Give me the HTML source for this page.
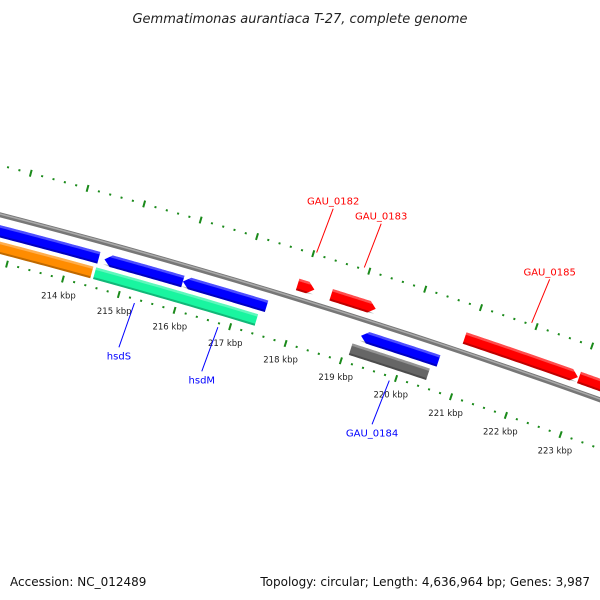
<!DOCTYPE html>
<html><head><meta charset="utf-8"><style>
html,body{margin:0;padding:0;background:#fff;}
svg{display:block;font-family:"DejaVu Sans","Liberation Sans",sans-serif;}
</style></head><body>
<svg id="map" width="600" height="600" viewBox="0 0 600 600">
<rect width="600" height="600" fill="#fff"/>
<text x="300" y="23" text-anchor="middle" font-size="13" font-style="italic" fill="#222">Gemmatimonas aurantiaca T-27, complete genome</text>
<g id="rings"></g>
<g id="backbone"></g>
<g id="feats"></g>
<g id="labels"></g>
<text x="10" y="586" font-size="12" fill="#111">Accession: NC_012489</text>
<text x="590" y="586" text-anchor="end" font-size="12" fill="#111">Topology: circular; Length: 4,636,964 bp; Genes: 3,987</text>
</svg>
<script>
// ---- data (positions in kbp) ----
const featStart  = [212.0, 214.6, 216.0, 212.0, 214.5, 217.9, 218.5, 219.2, 219.1, 220.9, 222.97, 223.72];
const featEnd    = [214.5, 216.0, 217.5, 214.45, 217.4, 218.2, 219.3, 220.6, 220.5, 222.95, 223.7, 224.6];
const featStrand = [-1, -1, -1, 0, 0, 1, 1, -1, 0, 1, 1, 1];
const featRow    = [-1, -1, -1, -2, -2, 1, 1, -1, -2, 1, 1, 1];
const featColor  = ["#0000ff","#0000ff","#0000ff","#ff8c00","#19f5a0","#ff0000","#ff0000","#0000ff","#666666","#ff0000","#ff0000","#ff0000"];
const featName   = ["blue-gene-a","hsdS","hsdM","orange-gene","green-gene","GAU_0182","GAU_0183","GAU_0184","gray-gene","GAU_0185","red-gene-b","red-gene-c"];
const labelText  = ["GAU_0182","GAU_0183","GAU_0185","hsdS","hsdM","GAU_0184"];
const labelPos   = [218.05, 218.9, 221.9, 215.3, 216.8, 219.9];
const labelSide  = [1, 1, 1, -1, -1, -1];
const labelColor = ["#ff0000","#ff0000","#ff0000","#0000ff","#0000ff","#0000ff"];
const tickStart = 211.0, tickEnd = 225.0, tickStep = 0.2;
const tickLabelKbp = [214,215,216,217,218,219,220,221,222,223];

// ---- geometry ----
const NS="http://www.w3.org/2000/svg";
const CX=-1725, CY=6874, R=6879;
const a214=Math.atan2(-6639.4,1800), dA=0.00848;
function ang(k){return a214+(k-214)*dA;}
function pt(k,r){const a=ang(k);return [CX+(R+r)*Math.cos(a),CY+(R+r)*Math.sin(a)];}
function mk(tag,attrs,parent){const e=document.createElementNS(NS,tag);for(const k in attrs)e.setAttribute(k,attrs[k]);parent.appendChild(e);return e;}
function arcPath(k1,k2,r){let d="";const n=40;for(let i=0;i<=n;i++){const p=pt(k1+(k2-k1)*i/n,r);d+=(i?"L":"M")+p[0].toFixed(2)+" "+p[1].toFixed(2);}return d;}

// rings
const rings=document.getElementById('rings');
[48,-46].forEach(function(r){
  for(let k=tickStart;k<=tickEnd+1e-6;k+=tickStep){
    const major=Math.abs(k-Math.round(k))<1e-6;
    const a=major?pt(k,r-3.5):pt(k,r-1), b=major?pt(k,r+3.5):pt(k,r+1);
    const t=mk('line',{x1:a[0],y1:a[1],x2:b[0],y2:b[1],stroke:'#1a8a1a','stroke-width':2},rings);
    
    
  }
});
tickLabelKbp.forEach(function(k){
  const p=pt(k,-63);
  const t=mk('text',{x:p[0],y:p[1]+3,'text-anchor':'middle','font-size':8.5,fill:'#222'},rings);
  t.textContent=k+' kbp';
  
  
});

// backbone
const bb=document.getElementById('backbone');
const b1=mk('path',{d:arcPath(205,230,0),stroke:'#777',fill:'none','stroke-width':5},bb);


mk('path',{d:arcPath(205,230,0.8),stroke:'#aaa',fill:'none','stroke-width':1.5},bb);

// features
const fg=document.getElementById('feats');
function band(k1,k2,r1,r2,dir){
  const head=7/R/dA; let pts=[];const n=30;
  let s=k1,e=k2;
  if(dir>0)e=k2-head; if(dir<0)s=k1+head;
  for(let i=0;i<=n;i++)pts.push(pt(s+(e-s)*i/n,r2));
  if(dir>0)pts.push(pt(k2,(r1+r2)/2));
  for(let i=n;i>=0;i--)pts.push(pt(s+(e-s)*i/n,r1));
  if(dir<0)pts.push(pt(k1,(r1+r2)/2));
  return 'M'+pts.map(p=>p[0].toFixed(2)+' '+p[1].toFixed(2)).join('L')+'Z';
}
for(let i=0;i<featStart.length;i++){
  const rc=featRow[i]===1?14:(featRow[i]===-1?-16:-32);
  const r1=rc-6,r2=rc+6;
  const g=mk('g',{},fg);
  
  
  mk('path',{d:band(featStart[i],featEnd[i],r1,r2,featStrand[i]),fill:featColor[i]},g);
  mk('path',{d:band(featStart[i],featEnd[i],r1,r1+2,featStrand[i]),fill:'#000','fill-opacity':0.25},g);
  mk('path',{d:band(featStart[i],featEnd[i],r2-2.5,r2,featStrand[i]),fill:'#fff','fill-opacity':0.3},g);
}

// labels
const lg=document.getElementById('labels');
for(let i=0;i<labelText.length;i++){
  const s=labelSide[i];
  const p1=pt(labelPos[i],s>0?50:-50), p2=pt(labelPos[i],s>0?96:-96);
  const ln=mk('line',{x1:p1[0],y1:p1[1],x2:p2[0]+(s>0?3:-3),y2:p2[1]-(s>0?-8:8)*0,stroke:labelColor[i],'stroke-width':1},lg);
  
  
  const tx=mk('text',{x:p2[0]+(s>0?3:-3),y:s>0?p2[1]-4:p2[1]+12,'text-anchor':'middle','font-size':10,fill:labelColor[i]},lg);
  tx.textContent=labelText[i];
  
  
}
</script>
</body></html>
